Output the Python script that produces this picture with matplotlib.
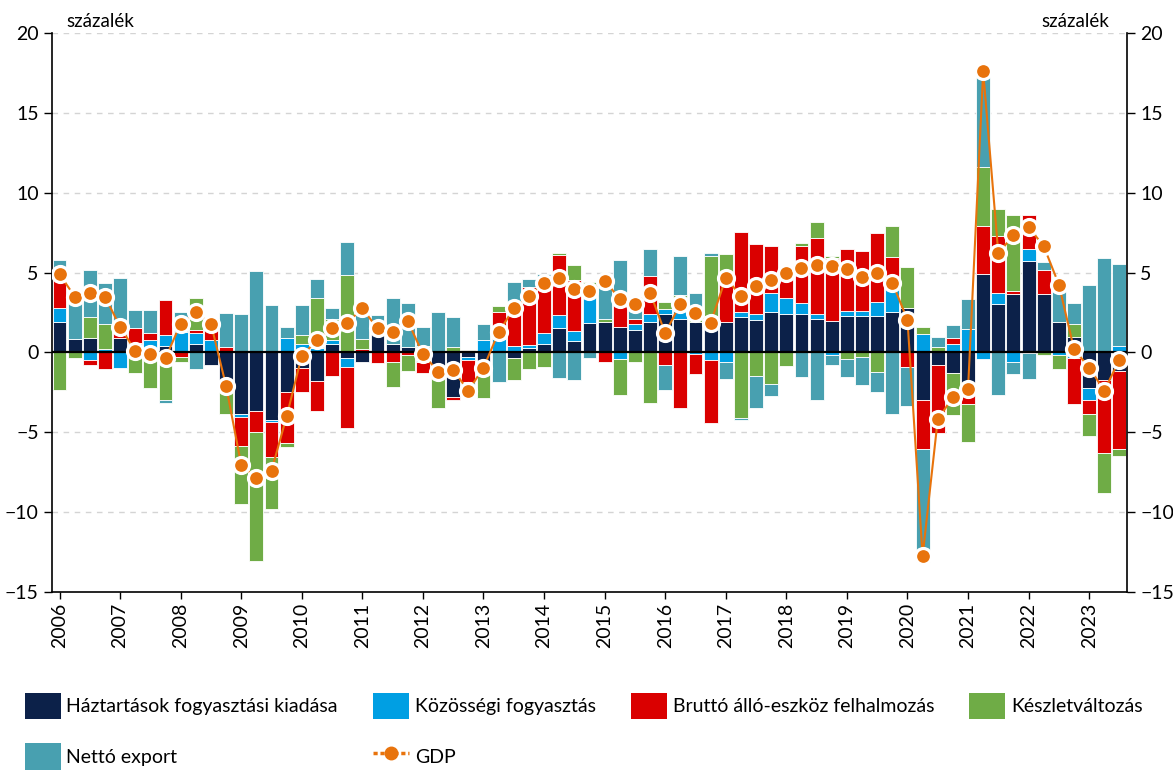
import numpy as np
import matplotlib
matplotlib.use("Agg")
import matplotlib.pyplot as plt
from matplotlib.lines import Line2D
from matplotlib.patches import Patch

plt.rcParams["font.family"] = ["Lato", "DejaVu Sans"]

# quarterly data, 2006 Q1 .. 2023 Q3
years = list(range(2006, 2024))

haztartas = [1.88, 0.81, 0.89, 0.0, 0.89, 0.3, 0.1, 0.43, 0.1, 0.5, -0.76, -1.7,
             -3.86, -3.68, -4.26, -2.46, -0.99, -1.78, 0.5, -0.38, -0.58, 1.13, 0.5, 0.33,
             0.15, -1.16, -2.77, -0.29, -0.6, 0.08, -0.38, 0.25, 0.5, 1.5, 0.71, 1.82,
             1.9, 1.61, 1.43, 1.88, 2.4, 2.09, 1.88, 2.25, 1.9, 2.19, 2.02, 2.5,
             2.4, 2.4, 2.1, 1.98, 2.3, 2.3, 2.3, 2.5, 2.81, -2.98, -0.79, -1.27,
             -2.32, 4.94, 3.05, 3.65, 5.73, 3.65, 1.93, 0.97, -2.25, -1.72, -1.18]
kozossegi = [0.93, 0.0, -0.5, 0.2, -0.95, 0.3, 0.7, 0.69, 1.2, 0.72, 0.8, 0.0,
             -0.21, 0.0, -0.1, 0.93, 0.5, 0.29, 0.3, -0.54, 0.0, 0.0, 0.0, 0.0,
             -0.6, 0.0, 0.0, -0.21, 0.8, 0.73, 0.4, 0.19, 0.73, 0.82, 0.61, 2.08,
             0.0, -0.39, 0.37, 0.52, 0.31, 0.5, -0.12, -0.5, -0.6, 0.31, 0.38, 1.2,
             0.99, 0.68, 0.3, -0.17, 0.3, 0.3, 0.88, 1.5, 0.0, 1.13, 0.0, 0.5,
             1.44, -0.43, 0.66, -0.58, 0.77, 0.0, -0.15, -0.32, -0.71, 0.0, 0.43]
brutto = [1.78, 0.0, -0.26, -1.07, 0.33, 0.9, 0.42, 2.17, -0.29, 0.21, 0.65, 0.33,
          -1.8, -1.3, -2.21, -3.2, -1.47, -1.88, -1.47, -3.81, 0.23, -0.65, -0.58, -0.18,
          -0.66, 0.0, -0.18, -1.34, 0.0, 1.72, 2.2, 3.67, 3.45, 3.78, 3.2, 0.0,
          -0.58, 1.37, 0.29, 2.37, -0.79, -3.45, -1.24, -3.92, 2.7, 5.04, 4.36, 2.95,
          1.51, 3.57, 4.77, 3.95, 3.85, 3.74, 4.28, 1.97, -0.91, -3.09, -4.25, 0.42,
          -0.94, 3.0, 3.59, 0.17, 2.08, 1.5, 0.0, -2.94, -0.9, -4.55, -4.87]
keszlet = [-2.36, -0.37, 1.3, 1.6, 0.0, -1.26, -2.25, -2.98, -0.29, 1.96, 0.0, -2.14,
           -3.61, -8.1, -3.22, -0.27, 0.62, 3.1, 1.29, 4.82, 0.58, 0.0, -1.57, -0.98,
           0.25, -2.29, 0.33, 0.12, -2.25, 0.37, -1.32, -1.06, -0.9, 0.1, 0.93, 0.5,
           0.2, -2.25, -0.58, -3.16, 0.47, 1.0, 0.27, 3.8, 1.56, -4.11, -1.47, -1.98,
           -0.85, 0.21, 0.97, 0.12, -0.39, -0.29, -1.2, 1.96, 2.54, 0.48, 0.35, -2.66,
           -2.36, 3.65, 1.67, 4.76, -0.05, -0.15, -0.88, 0.79, -1.35, -2.53, -0.45]
netto_export = [1.17, 2.6, 2.95, 2.56, 3.45, 1.17, 1.45, -0.16, 1.2, -1.07, 0.0, 2.15,
                2.38, 5.08, 2.98, 0.66, 1.86, 1.18, 0.68, 2.09, 1.6, 1.19, 2.92, 2.78,
                1.2, 2.56, 1.86, -0.97, 1.0, -1.84, 1.83, 0.5, 0.25, -1.59, -1.7, -0.38,
                2.63, 2.78, 0.8, 1.68, -1.57, 2.45, 1.55, 0.2, -1.05, -0.13, -1.98, -0.77,
                0.0, -1.55, -2.95, -0.59, -1.18, -1.76, -1.26, -3.84, -2.46, -7.07, 0.63, 0.77,
                1.89, 5.79, -2.64, -0.75, -1.63, 0.54, 2.08, 1.35, 4.23, 5.9, 5.09]
gdp = [4.9, 3.5, 3.7, 3.5, 1.6, 0.1, -0.1, -0.35, 1.8, 2.5, 1.8, -2.1,
       -7.05, -7.85, -7.4, -4.0, -0.2, 0.75, 1.55, 1.85, 2.75, 1.5, 1.3, 1.95,
       -0.1, -1.2, -1.1, -2.4, -0.95, 1.26, 2.75, 3.55, 4.35, 4.65, 3.95, 3.85,
       4.5, 3.35, 3.05, 3.75, 1.2, 3.05, 2.45, 1.85, 4.65, 3.55, 4.15, 4.55,
       4.95, 5.3, 5.45, 5.4, 5.25, 4.75, 4.95, 4.35, 2.05, -12.75, -4.2, -2.8,
       -2.3, 17.6, 6.2, 7.35, 7.85, 6.65, 4.25, 0.2, -0.95, -2.4, -0.45]

labels = ["Háztartások fogyasztási kiadása", "Közösségi fogyasztás",
          "Bruttó álló-eszköz felhalmozás", "Készletváltozás", "Nettó export"]
colors = ["#0c2149", "#009fe3", "#da0000", "#6fac46", "#48a0b0"]
gdp_color = "#e8730c"

series = [haztartas, kozossegi, brutto, keszlet, netto_export]
x = np.arange(len(gdp))

fig = plt.figure(figsize=(11.73, 7.73), dpi=100)
ax = fig.add_axes([0.0443, 0.2342, 0.9165, 0.7231])

# excel-style stacking: positives upward, negatives downward
pos_bottom = np.zeros(len(x))
neg_bottom = np.zeros(len(x))
for vals, col in zip(series, colors):
    v = np.array(vals)
    bottom = np.where(v >= 0, pos_bottom, neg_bottom)
    ax.bar(x, v, bottom=bottom, width=0.92, color=col, edgecolor="white",
           linewidth=0.6, zorder=2)
    pos_bottom += np.where(v > 0, v, 0)
    neg_bottom += np.where(v < 0, v, 0)

ax.axhline(0, color="black", lw=1.6, zorder=3)
ax.plot(x, gdp, color=gdp_color, lw=1.5, marker="o", markersize=11.5,
        markerfacecolor=gdp_color, markeredgecolor="white", markeredgewidth=2.3,
        zorder=4)

ax.set_xlim(-0.5, len(x) - 0.5)
ax.set_ylim(-15, 20)
ax.set_yticks(range(-15, 21, 5))
for yv in range(-10, 21, 5):
    if yv != 0:
        ax.axhline(yv, color="#d4d4d4", lw=1, ls=(0, (4, 4)), zorder=1)

ax.set_xticks(x[::4])
ax.set_xticklabels([str(y) for y in years], rotation=90, fontsize=14)
ax.tick_params(axis="x", length=5, width=1, pad=3)
ax.tick_params(axis="y", labelsize=14, length=6, width=1,
               left=True, right=True, labelleft=True, labelright=True)

ax.spines["top"].set_visible(False)
for s in ["left", "right", "bottom"]:
    ax.spines[s].set_linewidth(1.2)
    ax.spines[s].set_color("black")

fig.text(0.057, 0.961, "százalék", fontsize=13.5, ha="left", va="bottom")
fig.text(0.946, 0.961, "százalék", fontsize=13.5, ha="right", va="bottom")

handles = [Patch(facecolor=c, edgecolor="none") for c in colors]
handles.append(Line2D([0], [0], color=gdp_color, lw=2.5, ls=(0, (1.2, 0.8)),
                      marker="o", markersize=9, markerfacecolor=gdp_color,
                      markeredgecolor=gdp_color))
leg_labels = labels + ["GDP"]
order = [0, 4, 1, 5, 2, 3]
fig.legend([handles[i] for i in order], [leg_labels[i] for i in order],
           loc="upper left", bbox_to_anchor=(0.021, 0.104), ncol=4,
           frameon=False, fontsize=14, handlelength=1.85, handleheight=1.75,
           handletextpad=0.3, columnspacing=1.8, labelspacing=1.2,
           borderpad=0, borderaxespad=0)

fig.savefig("out.png", dpi=100)
